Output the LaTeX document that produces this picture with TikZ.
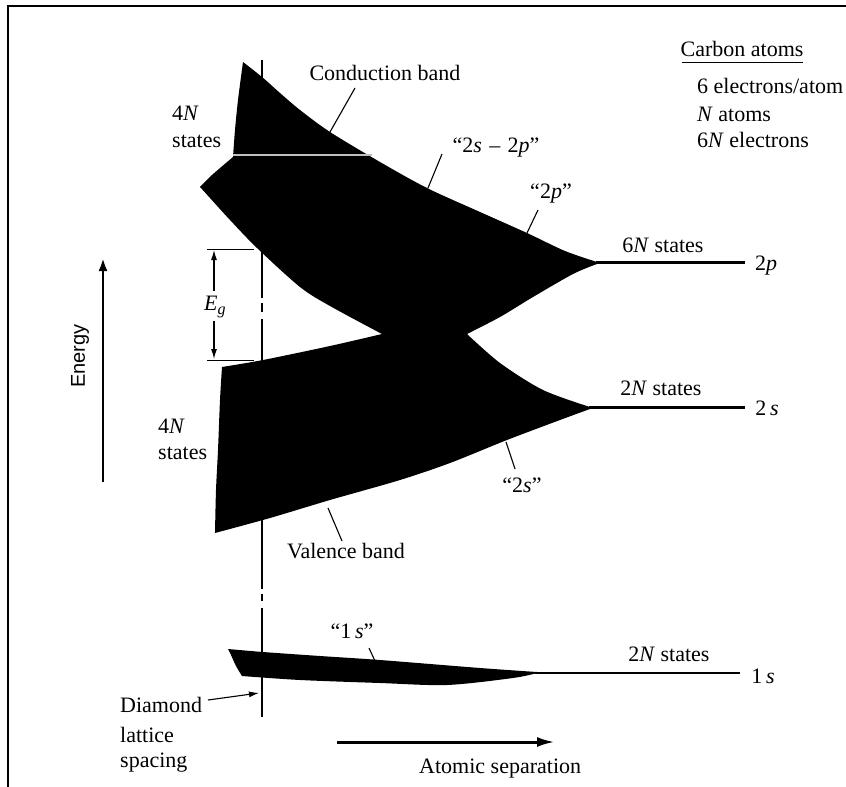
\documentclass[tikz,border=0pt]{standalone}
\usepackage{fontspec}
\setmainfont{Liberation Serif}
\newfontfamily\sansfam{Liberation Sans}
\usetikzlibrary{arrows.meta}
\begin{document}
\begin{tikzpicture}[x=1pt,y=-1pt,
  lbl/.style={inner sep=0pt, font=\fontsize{22}{26}\selectfont},
  leader/.style={line width=1.1pt},
  level/.style={line width=3pt},
  thinlevel/.style={line width=2pt},
  band/.style={fill=black},
  lattice/.style={line width=1.2pt},
  frameline/.style={line width=2.2pt},
]
\useasboundingbox (0,0) rectangle (846,787);

% frame (left and top edges)
\draw[frameline] (8,787) -- (8,6) -- (846,6);

% lattice spacing line (with dash-dot breaks)
\draw[lattice] (262,60) -- (262,298);
\draw[lattice] (262,303) -- (262,312);
\draw[lattice] (262,319) -- (262,589);
\draw[lattice] (262,594) -- (262,601);
\draw[lattice] (262,608) -- (262,717);

% upper bands (conduction + valence)
\fill[band] plot[smooth] coordinates {(243,62) (262,77) (280,93) (300,110) (330,132) (380,162) (427,188) (480,212) (527,233) (565,251) (597,262)}
 -- plot[smooth] coordinates {(597,264) (573,274) (533,297) (500,317) (467,334)}
 -- plot[smooth] coordinates {(467,334) (500,363) (543,390) (590,407)}
 -- plot[smooth] coordinates {(590,409) (560,420) (507,440) (450,463) (400,480) (330,500) (270,518) (215,533)}
 -- plot[smooth] coordinates {(215,533) (216,490) (218,450) (220,400) (222,367)}
 -- plot[smooth] coordinates {(222,367) (263,360) (330,346) (382,334)}
 -- plot[smooth] coordinates {(382,334) (330,306) (300,287) (257,248) (230,220) (210,198) (200,187)}
 -- plot[smooth] coordinates {(200,187) (212,175) (233,157)}
 -- plot[smooth] coordinates {(233,157) (235,130) (238,100) (243,62)}
 -- cycle;
\draw[white!75!black, line width=1.2pt] (233,155) -- (372,155);

% 1s band
\fill[band] plot[smooth] coordinates {(228,649) (263,652) (320,656) (380,660) (480,668) (537,672)}
 -- plot[smooth] coordinates {(537,673) (513,678) (447,685) (380,683) (300,680) (242,676)}
 -- plot[smooth] coordinates {(242,676) (236,666) (231,655) (228,649)} -- cycle;

% atomic levels
\coordinate (p2a) at (596,262.5);
\coordinate (p2b) at (745,262.5);
\coordinate (s2a) at (589,407.5);
\coordinate (s2b) at (745,407.5);
\coordinate (s1a) at (535,673);
\coordinate (s1b) at (740,673);
\draw[level] (p2a) -- (p2b);
\draw[level] (s2a) -- (s2b);
\draw[thinlevel] (s1a) -- (s1b);

% labels
\node[lbl, anchor=base] (cond) at (385,80) {Conduction band};
\node[lbl, anchor=base] (sp) at (496,152) {“2\textit{s}\,\,–\,\,2\textit{p}”};
\node[lbl, anchor=base] (p2q) at (551,198) {“2\textit{p}”};
\node[lbl, anchor=base] (sixN) at (663,252) {6\textit{N} states};
\node[lbl, anchor=base] (twop) at (766,270) {2\textit{p}};
\node[lbl, anchor=base] (twoNa) at (661,395) {2\textit{N} states};
\node[lbl, anchor=base] (twos) at (767,415) {2\,\textit{s}};
\node[lbl, anchor=base] (s2q) at (522,492) {“2\textit{s}”};
\node[lbl, anchor=base] (val) at (346,558) {Valence band};
\node[lbl, anchor=base] (s1q) at (352,638) {“1\,\textit{s}”};
\node[lbl, anchor=base] (twoNb) at (669,661) {2\textit{N} states};
\node[lbl, anchor=base] (ones) at (763,683) {1\,\textit{s}};

\node[lbl, anchor=base west] (fourNa) at (172,120) {4\textit{N}};
\node[lbl, anchor=base west] (statesa) at (172,147) {states};
\node[lbl, anchor=base west] (fourNb) at (158,433) {4\textit{N}};
\node[lbl, anchor=base west] (statesb) at (158,459) {states};

\node[lbl, anchor=base] (carbon) at (742,56) {Carbon atoms};
\coordinate (ula) at (682,62.5);
\coordinate (ulb) at (803,62.5);
\draw[line width=1pt] (ula) -- (ulb);
\node[lbl, anchor=base west] (ca1) at (697,93) {6 electrons/atom};
\node[lbl, anchor=base west] (ca2) at (697,121) {\textit{N} atoms};
\node[lbl, anchor=base west] (ca3) at (697,147) {6\textit{N} electrons};

\node[lbl, anchor=base west] (dia1) at (120,712) {Diamond};
\node[lbl, anchor=base west] (dia2) at (120,742) {lattice};
\node[lbl, anchor=base west] (dia3) at (120,767) {spacing};

\node[lbl, anchor=base west] (atsep) at (419,773) {Atomic separation};
\node[inner sep=0pt, font=\sansfam\fontsize{20}{24}\selectfont, rotate=90] (energy) at (80,356) {Energy};

% E_g marks
\coordinate (ega) at (207,249);
\coordinate (egb) at (254,249);
\coordinate (egc) at (207,360);
\coordinate (egd) at (254,360);
\draw[line width=1pt] (ega) -- (egb);
\draw[line width=1pt] (egc) -- (egd);
\node[lbl, anchor=base west] (eg) at (204,310) {\textit{E}\raisebox{-0.4ex}{\fontsize{16}{18}\selectfont\textit{g}}};
\coordinate (eg1) at (214,291);
\coordinate (eg2) at (214,250);
\coordinate (eg3) at (214,321);
\coordinate (eg4) at (214,359);
\draw[line width=1.1pt, -{Latex[length=10pt,width=6pt]}] (eg1) -- (eg2);
\draw[line width=1.1pt, -{Latex[length=10pt,width=6pt]}] (eg3) -- (eg4);

% leaders
\coordinate (l1a) at (355,88);  \coordinate (l1b) at (330,132);
\coordinate (l2a) at (442,154); \coordinate (l2b) at (428,188);
\coordinate (l3a) at (538,210); \coordinate (l3b) at (527,233);
\coordinate (l4a) at (515,469); \coordinate (l4b) at (506,442);
\coordinate (l5a) at (342,541); \coordinate (l5b) at (328,508);
\coordinate (l6a) at (369,648); \coordinate (l6b) at (375,661);
\draw[leader] (l1a) -- (l1b);
\draw[leader] (l2a) -- (l2b);
\draw[leader] (l3a) -- (l3b);
\draw[leader] (l4a) -- (l4b);
\draw[leader] (l5a) -- (l5b);
\draw[leader] (l6a) -- (l6b);

% diamond lattice arrow
\coordinate (da) at (208,700);
\coordinate (db) at (259,693);
\draw[line width=1.1pt, -{Latex[length=10pt,width=6pt]}] (da) -- (db);

% axis arrows
\coordinate (en1) at (103,482);
\coordinate (en2) at (103,258);
\draw[line width=2.6pt, -{Latex[length=13pt,width=9pt]}] (en1) -- (en2);
\coordinate (as1) at (337,742);
\coordinate (as2) at (555,742);
\draw[line width=3pt, -{Latex[length=18pt,width=10pt]}] (as1) -- (as2);
\end{tikzpicture}
\end{document}
